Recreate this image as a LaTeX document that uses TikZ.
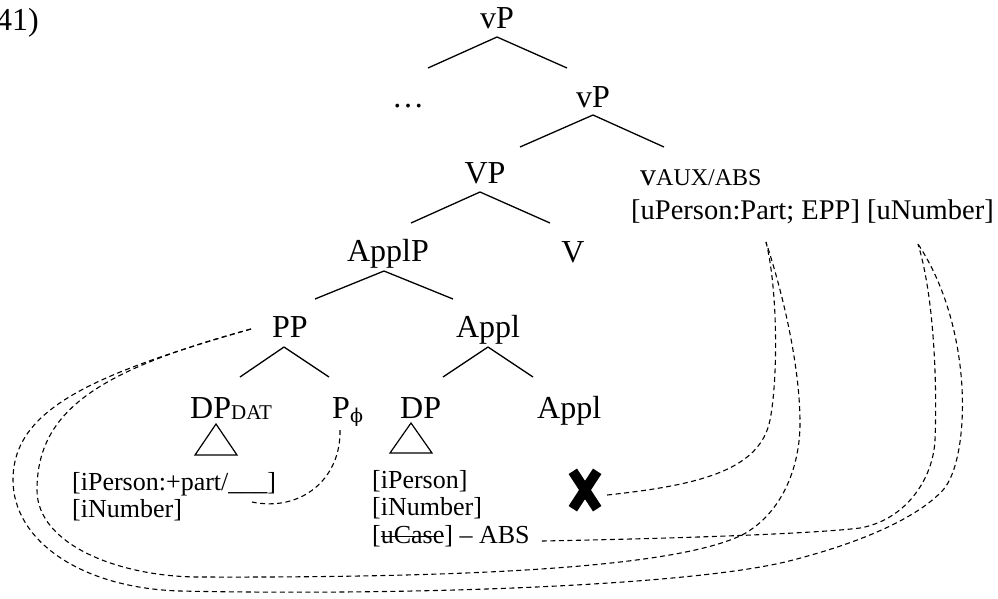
\documentclass[tikz,border=0pt]{standalone}
\usepackage{fontspec}
\setmainfont{Liberation Serif}
\newfontfamily\greekfont{DejaVu Serif}
\usetikzlibrary{calc}
% struck-out feature text
\newcommand\strk[1]{\leavevmode\setbox0\hbox{#1}\rlap{\rule[0.22em]{\wd0}{0.06em}}\box0}
\begin{document}
\begin{tikzpicture}[x=1pt,y=-1pt,
  lbl/.style={font=\fontsize{32}{38}\selectfont, inner sep=0pt},
  feat/.style={font=\fontsize{26}{30}\selectfont, inner sep=0pt, anchor=base west},
  branch/.style={line width=1.3pt},
  tri/.style={line width=1.2pt},
  link/.style={line width=1.1pt, dash pattern=on 5pt off 3.5pt},
  cross/.style={line width=10pt},
]
\useasboundingbox (0,0) rectangle (998,598);

% example number
\node[lbl, anchor=base west] (num) at (-4,30) {41)};

% tree labels
\node[lbl, anchor=base] (vP1) at (497,28) {vP};
\node[lbl, anchor=base] (dots) at (408,107) {…};
\node[lbl, anchor=base] (vP2) at (593,107) {vP};
\node[lbl, anchor=base] (VP) at (485,183) {VP};
\node[lbl, anchor=base west] (vaux) at (640,185) {v{\fontsize{24}{27}\selectfont AUX/ABS}};
\node[feat, font=\fontsize{28.5}{32}\selectfont] (vfeat) at (631,219) {[uPerson:Part; EPP] [uNumber]};
\node[lbl, anchor=base] (ApplP) at (388,261) {ApplP};
\node[lbl, anchor=base] (V) at (573,262) {V};
\node[lbl, anchor=base] (PP) at (290,337) {PP};
\node[lbl, anchor=base] (Applbar) at (488,337) {Appl};
\node[lbl, anchor=base west] (DPdat) at (190,418) {DP{\fontsize{21}{24}\selectfont\raisebox{-1pt}{DAT}}};
\node[lbl, anchor=base west] (Pphi) at (332,418) {P\raisebox{-4pt}{\fontsize{19}{22}\selectfont\greekfont ϕ}};
\node[lbl, anchor=base west] (DP) at (400,418) {DP};
\node[lbl, anchor=base west] (Appl) at (537,418) {Appl};

% feature bundles
\node[feat] (datperson) at (72,490) {[iPerson:+part/\_\_\_]};
\node[feat] (datnumber) at (72,517) {[iNumber]};
\node[feat] (absperson) at (372,488) {[iPerson]};
\node[feat] (absnumber) at (372,515) {[iNumber]};
\node[feat] (abscase) at (372,543) {[\strk{uCase}] – ABS};

% failed agreement mark
\node[minimum width=24pt, minimum height=37pt, inner sep=0pt] (xmark) at (585,490) {};
\draw[cross] (xmark.north west) -- (xmark.south east);
\draw[cross] (xmark.north east) -- (xmark.south west);

% branches
\draw[branch] ($(vP1.base)+(0,9)$) coordinate (a1) -- ++(-69,31);
\draw[branch] (a1) -- ++(70,31);
\draw[branch] ($(vP2.base)+(0,8)$) coordinate (a2) -- ++(-73,32);
\draw[branch] (a2) -- ++(71,32);
\draw[branch] ($(VP.base)+(-5,9)$) coordinate (a3) -- ++(-69,31);
\draw[branch] (a3) -- ++(70,31);
\draw[branch] ($(ApplP.base)+(-4,10)$) coordinate (a4) -- ++(-69,28);
\draw[branch] (a4) -- ++(69,28);
\draw[branch] ($(PP.base)+(-6,10)$) coordinate (a5) -- ++(-44,30);
\draw[branch] (a5) -- ++(45,30);
\draw[branch] ($(Applbar.base)+(0,10)$) coordinate (a6) -- ++(-45,30);
\draw[branch] (a6) -- ++(45,30);

% triangles
\draw[tri] ($(DPdat.base west)+(26,6)$) -- ++(-21,31) -- ++(42,0) -- cycle;
\draw[tri] ($(DP.base west)+(11,5)$) -- ++(-21,30) -- ++(42,0) -- cycle;

% end points of the agreement links
\coordinate (ppstart) at ($(PP.base west)+(-21,-8)$);
\coordinate (pphistart) at ($(Pphi.base west)+(8,12)$);
\coordinate (datend) at ($(datperson.base west)+(180,12)$);
\coordinate (uperson) at (766,242);
\coordinate (unumber) at (918,244);
\coordinate (absstart) at ($(abscase.base east)+(12,-2)$);

% agreement links
\draw[link] (pphistart) .. controls +(1,50) and +(48,10) .. (datend);
\draw[link] ($(xmark.east)+(10,5)$) .. controls (700,485) and (760,470) .. (770,420)
  .. controls (778,380) and (778,290) .. (uperson);
\draw[link] (ppstart) .. controls (100,370) and (37,410) .. (37,490)
  .. controls (37,545) and (120,577) .. (200,577)
  .. controls (500,578) and (680,565) .. (742,535)
  .. controls (780,515) and (800,470) .. (800,423)
  .. controls (800,370) and (785,300) .. (uperson);
\draw[link] (ppstart) .. controls (90,375) and (13,410) .. (13,480)
  .. controls (13,540) and (80,588) .. (180,591)
  .. controls (420,596) and (700,585) .. (793,560)
  .. controls (870,540) and (920,515) .. (943,490)
  .. controls (970,460) and (975,330) .. (unumber);
\draw[link] (absstart) .. controls (700,538) and (820,533) .. (860,528)
  .. controls (905,520) and (933,480) .. (935,440)
  .. controls (937,390) and (935,300) .. (unumber);
\end{tikzpicture}
\end{document}
